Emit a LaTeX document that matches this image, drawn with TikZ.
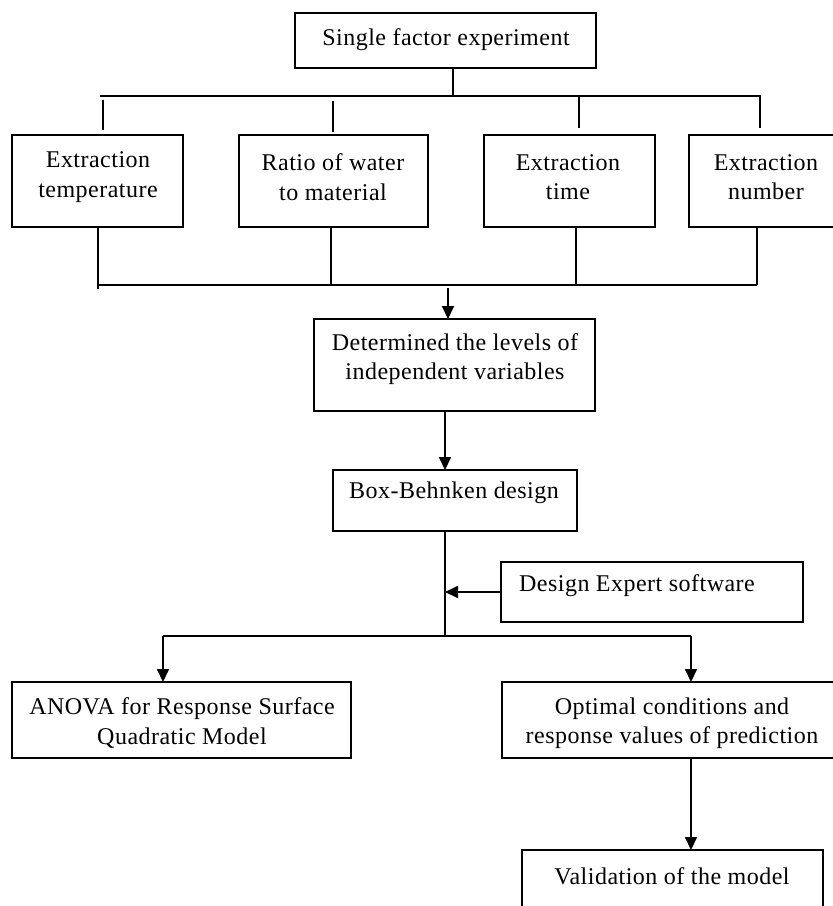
\documentclass[tikz,border=0pt]{standalone}
\usepackage{fontspec}
\setmainfont{Liberation Serif}[LetterSpace=2]
\usetikzlibrary{arrows.meta,calc}
\begin{document}
\begin{tikzpicture}[x=1pt,y=-1pt,
 box/.style={draw, line width=1.8pt, inner sep=0pt, outer sep=0pt, rectangle},
 txt/.style={font=\fontsize{24}{29.5}\selectfont, align=center, inner sep=0pt},
 conn/.style={line width=1.8pt},
 arr/.style={conn, -{Triangle[length=13pt,width=12pt]}}]
\useasboundingbox (0,0) rectangle (833,906);
\fill[white] (0,0) rectangle (833,906);
\clip (0,0) rectangle (833,906);
% boxes
\node[box, minimum width=301, minimum height=55] (top) at (445.5,40.5) {};
\node[box, minimum width=171, minimum height=92] (b1) at (97.5,181) {};
\node[box, minimum width=189, minimum height=92] (b2) at (333.5,181) {};
\node[box, minimum width=171, minimum height=92] (b3) at (569.5,181) {};
\node[box, minimum width=156, minimum height=92] (b4) at (767,181) {};
\node[box, minimum width=281, minimum height=92] (det) at (454.5,365) {};
\node[box, minimum width=244, minimum height=61] (bb) at (455,500.5) {};
\node[box, minimum width=302, minimum height=60] (de) at (652,592) {};
\node[box, minimum width=339, minimum height=76] (anova) at (181.5,720) {};
\node[box, minimum width=341, minimum height=76] (opt) at (672.5,720) {};
\node[box, minimum width=301, minimum height=80] (val) at (672.5,890) {};
% texts
\node[txt] (ttop) at (446,40) {Single factor experiment};
\node[txt] (t1) at (98,177) {Extraction\\temperature};
\node[txt] (t2) at (333,177) {Ratio of water\\to material};
\node[txt] (t3) at (568,177) {Extraction\\time};
\node[txt] (t4) at (766,177) {Extraction\\number};
\node[txt] (tdet) at (455,359) {Determined the levels of\\independent variables};
\node[txt] (tbb) at (454,493) {Box-Behnken design};
\node[txt] (tde) at (637,586) {Design Expert software};
\node[txt] (tanova) at (182,723) {ANOVA for Response Surface\\Quadratic Model};
\node[txt] (topt) at (672,723) {Optimal conditions and\\response values of prediction};
\node[txt] (tval) at (672,876) {Validation of the model};
% junction coordinates
\coordinate (jTop) at (453,97);
\coordinate (hL) at (100,96);
\coordinate (hR) at (761,96);
\coordinate (d1) at (103,100);
\coordinate (d2) at (333,101);
\coordinate (d3) at (579,96);
\coordinate (d4) at (760,96);
\coordinate (u1) at (98,285);
\coordinate (u2) at (331,285);
\coordinate (u3) at (576,285);
\coordinate (u4) at (757,285);
\coordinate (a1) at (448,288);
\coordinate (s) at (445,0);
\coordinate (m) at (445,636);
\coordinate (mL) at (163,636);
\coordinate (mR) at (691,636);
% connectors
\draw[conn] (top.south -| jTop) -- (jTop);
\draw[conn] (hL) -- (hR);
\draw[conn] (d1) -- ($(b1.north -| d1)+(0,-5)$);
\draw[conn] (d2) -- ($(b2.north -| d2)+(0,-3)$);
\draw[conn] (d3) -- ($(b3.north -| d3)+(0,-7)$);
\draw[conn] (d4) -- ($(b4.north -| d4)+(0,-7)$);
\draw[conn] (b1.south -| u1) -- ($(u1)+(0,4)$);
\draw[conn] (b2.south -| u2) -- (u2);
\draw[conn] (b3.south -| u3) -- (u3);
\draw[conn] (b4.south -| u4) -- (u4);
\draw[conn] (u1) -- (u4);
\draw[arr] (a1) -- (det.north -| a1);
\draw[arr] (det.south -| s) -- (bb.north -| s);
\draw[conn] (bb.south -| m) -- (m);
\draw[arr] (de.west) -- (de.west -| m);
\draw[conn] (mL) -- (mR);
\draw[arr] (mL) -- (anova.north -| mL);
\draw[arr] (mR) -- (opt.north -| mR);
\draw[arr] (opt.south -| mR) -- (val.north -| mR);
\end{tikzpicture}
\end{document}
